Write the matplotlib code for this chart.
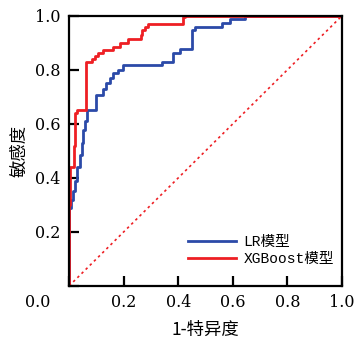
import matplotlib
matplotlib.use("Agg")
import matplotlib.pyplot as plt

plt.rcParams['font.family'] = ['DejaVu Serif', 'Noto Sans CJK SC']

# ROC step points (x = 1-特异度, y = 敏感度), drawn as steps-post
fpr_lr = [0, 0, 0.008, 0.015, 0.022, 0.030, 0.040, 0.048, 0.052, 0.058, 0.066,
          0.097, 0.125, 0.135, 0.150, 0.161, 0.180, 0.198, 0.340, 0.382, 0.407,
          0.449, 0.462, 0.559, 0.590, 0.645, 1.0]
tpr_lr = [0, 0.29, 0.32, 0.35, 0.39, 0.44, 0.485, 0.53, 0.578, 0.61, 0.652,
          0.707, 0.73, 0.75, 0.77, 0.789, 0.80, 0.819, 0.83, 0.862, 0.877,
          0.948, 0.96, 0.973, 0.988, 1.0, 1.0]

fpr_xgb = [0, 0, 0.005, 0.017, 0.023, 0.029, 0.062, 0.083, 0.095, 0.107, 0.126,
           0.162, 0.187, 0.217, 0.262, 0.268, 0.280, 0.290, 0.419, 0.425, 1.0]
tpr_xgb = [0, 0.30, 0.44, 0.52, 0.64, 0.652, 0.83, 0.84, 0.85, 0.862, 0.874,
           0.886, 0.90, 0.914, 0.93, 0.948, 0.96, 0.97, 0.995, 1.0, 1.0]

labels = ['LR模型', 'XGBoost模型']
colors = ['#2b4aa8', '#ee1f24']
ticks = [0.0, 0.2, 0.4, 0.6, 0.8, 1.0]

fig = plt.figure(figsize=(3.58, 3.38), dpi=100)
ax = fig.add_axes([0.193, 0.154, 0.762, 0.799])

ax.plot(fpr_lr, tpr_lr, drawstyle='steps-post', color=colors[0], lw=2, label=labels[0])
ax.plot(fpr_xgb, tpr_xgb, drawstyle='steps-post', color=colors[1], lw=2, label=labels[1])
ax.plot([0, 1], [0, 1], color=colors[1], lw=1.2, ls=(0, (1.5, 2)))

ax.set_xlim(0, 1)
ax.set_ylim(0, 1)
ax.set_xticks(ticks)
ax.set_yticks(ticks)
ax.set_xticklabels([''] + ['%.1f' % t for t in ticks[1:]])
ax.set_yticklabels([''] + ['%.1f' % t for t in ticks[1:]])
ax.text(-0.07, -0.06, '0.0', transform=ax.transAxes, ha='right', va='center', fontsize=11.5)
ax.tick_params(direction='in', length=7, width=1.6, labelsize=11.5, pad=6)
for s in ax.spines.values():
    s.set_linewidth(1.6)

ax.set_xlabel('1-特异度', fontsize=12.5, family=['Noto Sans CJK SC'], labelpad=7)
ax.set_ylabel('敏感度', fontsize=12.5, family=['Noto Sans CJK SC'], labelpad=5)

ax.legend(loc='upper left', bbox_to_anchor=(0.41, 0.215), frameon=False,
          borderpad=0, handlelength=3.3, handletextpad=0.5, labelspacing=0.2,
          prop={'family': ['Liberation Mono', 'Noto Sans CJK SC'], 'size': 10.5})

fig.savefig('out.png', dpi=100)
